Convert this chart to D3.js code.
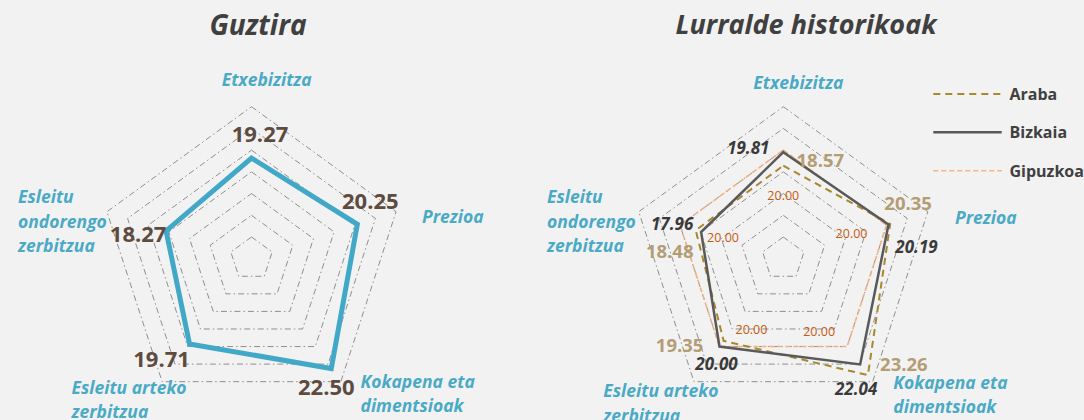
<!DOCTYPE html>
<html>
<head>
<meta charset="utf-8">
<script src="https://cdn.jsdelivr.net/npm/d3@7"></script>
<style>
  html, body { margin: 0; padding: 0; background: #f2f2f2; }
  svg { display: block; font-family: "Open Sans", "Noto Sans", sans-serif; }
</style>
</head>
<body>
<div id="chart"></div>
<script>
'use strict';

// axes, clockwise from the top
var categories = [
    ['Etxebizitza'],
    ['Prezioa'],
    ['Kokapena eta', 'dimentsioak'],
    ['Esleitu arteko', 'zerbitzua'],
    ['Esleitu', 'ondorengo', 'zerbitzua']
];
var ticks = [12, 14, 16, 18, 20, 22, 24];
var guztira = [19.27, 20.25, 22.50, 19.71, 18.27];
var araba = [18.57, 20.35, 23.26, 19.35, 18.48];
var bizkaia = [19.81, 20.19, 22.04, 20.00, 17.96];
var gipuzkoa = [20.00, 20.00, 20.00, 20.00, 20.00];
var seriesNames = ['Araba', 'Bizkaia', 'Gipuzkoa'];

var width = 1084, height = 420;

var svg = d3.select('#chart')
    .append('svg')
    .attr('width', width)
    .attr('height', height);

svg.append('rect').attr('width', width).attr('height', height).attr('fill', '#f2f2f2');

var r = d3.scaleLinear().domain([10, 24]).range([0, 152]);
var angle = d3.scaleLinear().domain([0, categories.length]).range([0, 2 * Math.PI]);

function point(cx, cy, v, i) {
    var a = angle(i);
    return [cx + r(v) * Math.sin(a), cy - r(v) * Math.cos(a)];
}

var line = d3.line().curve(d3.curveLinearClosed);

function radar(cx, cy) {
    var g = svg.append('g');

    g.selectAll('.grid')
        .data(ticks)
        .enter()
        .append('path')
        .attr('class', 'grid')
        .attr('d', function (t) {
            return line(categories.map(function (c, i) { return point(cx, cy, t, i); }));
        })
        .attr('fill', 'none')
        .attr('stroke', '#8f8f8f')
        .attr('stroke-width', 1)
        .attr('stroke-dasharray', '6,3,1.5,3');

    return g;
}

function series(g, cx, cy, values, stroke, w, dash) {
    g.append('path')
        .attr('d', line(values.map(function (v, i) { return point(cx, cy, v, i); })))
        .attr('fill', 'none')
        .attr('stroke', stroke)
        .attr('stroke-width', w)
        .attr('stroke-linejoin', 'miter')
        .attr('stroke-dasharray', dash || null);
}

function valueLabels(g, cx, cy, values, offsets, opts) {
    g.selectAll(null)
        .data(values)
        .enter()
        .append('text')
        .attr('x', function (v, i) { return point(cx, cy, v, i)[0] + offsets[i][0]; })
        .attr('y', function (v, i) { return point(cx, cy, v, i)[1] + offsets[i][1]; })
        .attr('text-anchor', 'middle')
        .attr('dominant-baseline', 'central')
        .attr('font-size', opts.size)
        .attr('font-weight', opts.weight)
        .attr('font-style', opts.style)
        .attr('fill', opts.fill)
        .text(function (v) { return v.toFixed(2); });
}

function categoryLabels(g, places) {
    categories.forEach(function (lines, i) {
        var p = places[i];
        var t = g.append('text')
            .attr('x', p[0])
            .attr('y', p[1])
            .attr('text-anchor', p[2])
            .attr('font-size', 17.5)
            .attr('font-weight', 'bold')
            .attr('font-style', 'italic')
            .attr('fill', '#4aaac6');
        lines.forEach(function (s, k) {
            t.append('tspan')
                .attr('x', p[0])
                .attr('y', p[1] + k * 24.5)
                .attr('dominant-baseline', 'central')
                .text(s);
        });
    });
}

function title(x, y, s, size) {
    svg.append('text')
        .attr('x', x)
        .attr('y', y)
        .attr('text-anchor', 'middle')
        .attr('dominant-baseline', 'central')
        .attr('font-size', size)
        .attr('font-weight', 'bold')
        .attr('font-style', 'italic')
        .attr('fill', '#404040')
        .text(s);
}

// --- Guztira
var lx = 251.5, ly = 258.7;
title(258, 24, 'Guztira', 28);
var left = radar(lx, ly);
series(left, lx, ly, guztira, '#42a8c7', 5);
valueLabels(left, lx, ly, guztira,
    [[8.5, -25], [13, -24], [-5, 18], [-28, 14], [-28, 2]],
    { size: 22, weight: 'bold', style: 'normal', fill: '#5e4b3f' });
categoryLabels(left, [
    [266.7, 79, 'middle'],
    [422, 216, 'start'],
    [360.5, 380.5, 'start'],
    [71.5, 386.5, 'start'],
    [18, 196, 'start']
]);

// --- Lurralde historikoak
var rx = 783.3, ry = 258.7;
title(806, 23, 'Lurralde historikoak', 27);
var right = radar(rx, ry);
series(right, rx, ry, gipuzkoa, '#f4b183', 1.6, '5,3');
series(right, rx, ry, araba, '#a8882e', 2, '7,5');
series(right, rx, ry, bizkaia, '#595959', 2.5);
valueLabels(right, rx, ry, gipuzkoa,
    [[0, 45], [-35, 8], [-28, -15], [32, -17], [43, 12]],
    { size: 12.5, weight: 'normal', style: 'normal', fill: '#c55a11' });
valueLabels(right, rx, ry, araba,
    [[37, -6], [18, -21], [36, -12], [-44, 4], [-26, 20]],
    { size: 18.5, weight: 'bold', style: 'normal', fill: '#b39d75' });
valueLabels(right, rx, ry, bizkaia,
    [[-35, -5], [28, 21.5], [-4, 24], [-3, 17], [-29, -8]],
    { size: 17, weight: 'bold', style: 'italic', fill: '#3a3a3a' });
categoryLabels(right, [
    [798.3, 81.5, 'middle'],
    [955, 217, 'start'],
    [893.3, 381.5, 'start'],
    [603.3, 390, 'start'],
    [547, 196, 'start']
]);

// legend
var legendStyles = [
    { stroke: '#a8882e', w: 2, dash: '7,5' },
    { stroke: '#595959', w: 2.5, dash: null },
    { stroke: '#f4b183', w: 1.6, dash: '5,3' }
];
var legendY = d3.scalePoint().domain(seriesNames).range([94, 170.7]);
var legend = svg.append('g');
legend.selectAll('line')
    .data(seriesNames)
    .enter()
    .append('line')
    .attr('x1', 933.3)
    .attr('x2', 1001.7)
    .attr('y1', function (d) { return legendY(d); })
    .attr('y2', function (d) { return legendY(d); })
    .attr('stroke', function (d, i) { return legendStyles[i].stroke; })
    .attr('stroke-width', function (d, i) { return legendStyles[i].w; })
    .attr('stroke-dasharray', function (d, i) { return legendStyles[i].dash; });
legend.selectAll('text')
    .data(seriesNames)
    .enter()
    .append('text')
    .attr('x', 1009.5)
    .attr('y', function (d) { return legendY(d); })
    .attr('dominant-baseline', 'central')
    .attr('font-size', 16)
    .attr('font-weight', 'bold')
    .attr('fill', '#404040')
    .text(function (d) { return d; });
</script>
</body>
</html>
